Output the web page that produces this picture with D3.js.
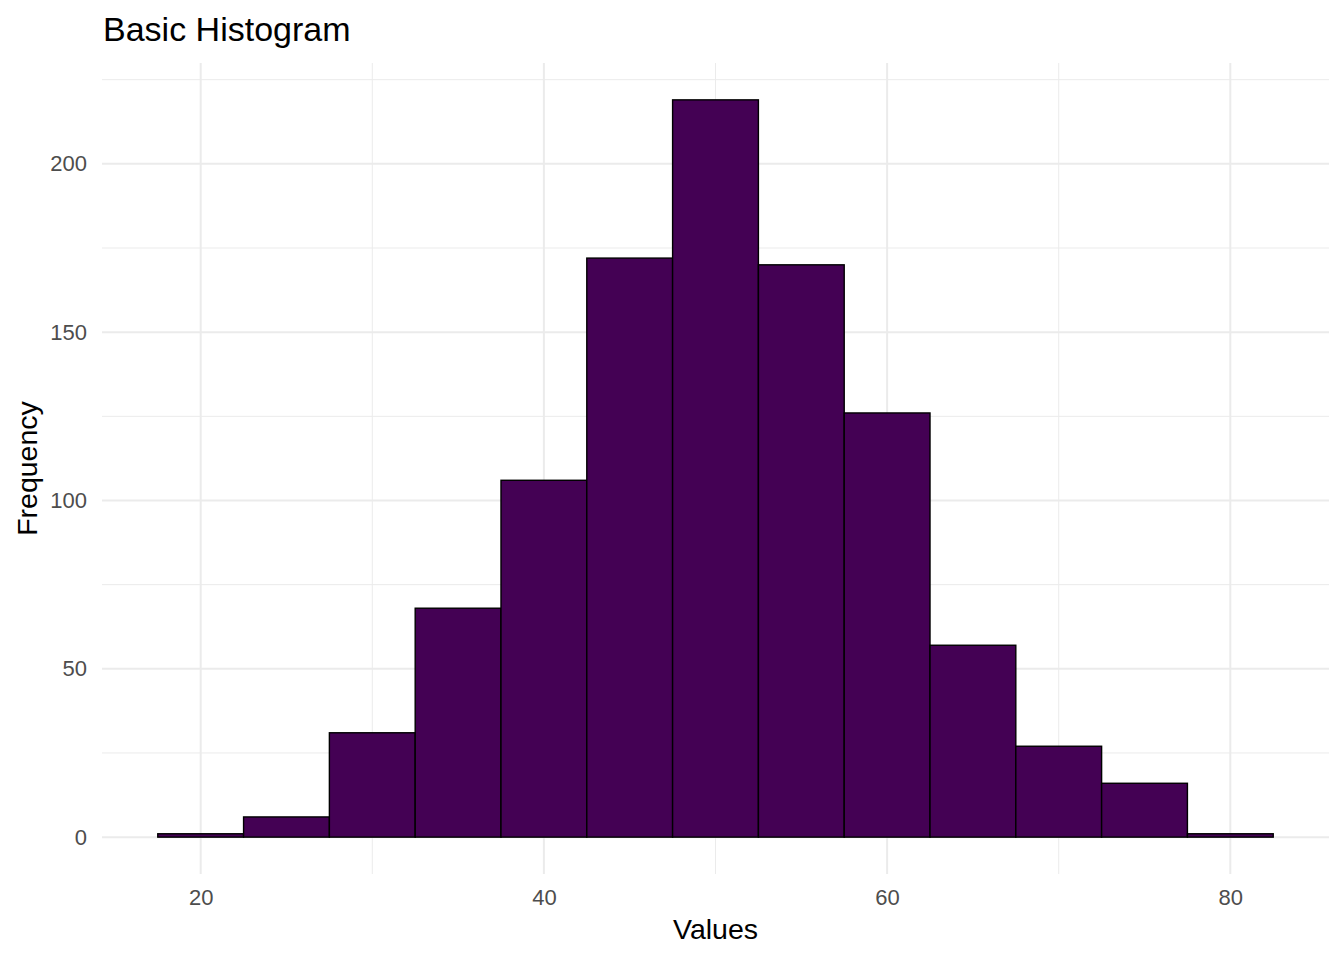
<!DOCTYPE html>
<html>
<head>
<meta charset="utf-8">
<script src="https://cdn.jsdelivr.net/npm/d3@7"></script>
<style>
  body { margin: 0; background: #fff; }
  text { font-family: "Liberation Sans", Arial, sans-serif; }
</style>
</head>
<body>
<div id="chart"></div>
<script>
// histogram bins (width 5) and counts
const binStarts = [17.5, 22.5, 27.5, 32.5, 37.5, 42.5, 47.5, 52.5, 57.5, 62.5, 67.5, 72.5, 77.5];
const counts = [1, 6, 31, 68, 106, 172, 219, 170, 126, 57, 27, 16, 1];
const binWidth = 5;
const xTicks = [20, 40, 60, 80];
const xMinor = [30, 50, 70];
const yTicks = [0, 50, 100, 150, 200];
const yMinor = [25, 75, 125, 175, 225];

const W = 1344, H = 960;
const panel = {left: 102, right: 1329, top: 63, bottom: 874};

const svg = d3.select('#chart').append('svg')
  .attr('width', W)
  .attr('height', H);

// 5% expansion like ggplot
const xMin = d3.min(binStarts), xMax = d3.max(binStarts) + binWidth;
const xPad = (xMax - xMin) * 0.05;
const x = d3.scaleLinear()
  .domain([xMin - xPad, xMax + xPad])
  .range([panel.left, panel.right]);

const yMax = d3.max(counts);
const y = d3.scaleLinear()
  .domain([-yMax * 0.05, yMax * 1.05])
  .range([panel.bottom, panel.top]);

// gridlines
const grid = svg.append('g').attr('stroke', '#EBEBEB');
grid.selectAll('.ymin').data(yMinor).join('line')
  .attr('x1', panel.left).attr('x2', panel.right)
  .attr('y1', d => y(d)).attr('y2', d => y(d))
  .attr('stroke-width', 1);
grid.selectAll('.xmin').data(xMinor).join('line')
  .attr('y1', panel.top).attr('y2', panel.bottom)
  .attr('x1', d => x(d)).attr('x2', d => x(d))
  .attr('stroke-width', 1);
grid.selectAll('.ymaj').data(yTicks).join('line')
  .attr('x1', panel.left).attr('x2', panel.right)
  .attr('y1', d => y(d)).attr('y2', d => y(d))
  .attr('stroke-width', 2);
grid.selectAll('.xmaj').data(xTicks).join('line')
  .attr('y1', panel.top).attr('y2', panel.bottom)
  .attr('x1', d => x(d)).attr('x2', d => x(d))
  .attr('stroke-width', 2);

// bars
svg.append('g').selectAll('rect')
  .data(binStarts.map((s, i) => ({s, n: counts[i]})))
  .join('rect')
  .attr('x', d => x(d.s))
  .attr('width', d => x(d.s + binWidth) - x(d.s))
  .attr('y', d => y(d.n))
  .attr('height', d => y(0) - y(d.n))
  .attr('fill', '#440154')
  .attr('stroke', '#000')
  .attr('stroke-width', 1.4);

// axes (labels only)
const xAxis = svg.append('g')
  .attr('transform', `translate(0,${panel.bottom})`)
  .call(d3.axisBottom(x).tickValues(xTicks).tickSize(0).tickPadding(31));
const yAxis = svg.append('g')
  .attr('transform', `translate(${panel.left},0)`)
  .call(d3.axisLeft(y).tickValues(yTicks).tickSize(0).tickPadding(15));
[xAxis, yAxis].forEach(a => {
  a.select('.domain').remove();
  a.selectAll('text')
    .attr('fill', '#4D4D4D')
    .style('font-size', '22px')
    .style('font-family', '"Liberation Sans", Arial, sans-serif');
});
xAxis.selectAll('text').attr('dy', null).attr('dominant-baseline', 'auto');

// titles
svg.append('text')
  .attr('x', 103).attr('y', 41)
  .style('font-size', '34px')
  .text('Basic Histogram');

svg.append('text')
  .attr('x', (panel.left + panel.right) / 2).attr('y', 939)
  .attr('text-anchor', 'middle')
  .style('font-size', '28.5px')
  .text('Values');

svg.append('text')
  .attr('transform', `translate(37,${(panel.top + panel.bottom) / 2}) rotate(-90)`)
  .attr('text-anchor', 'middle')
  .style('font-size', '28.5px')
  .text('Frequency');
</script>
</body>
</html>
